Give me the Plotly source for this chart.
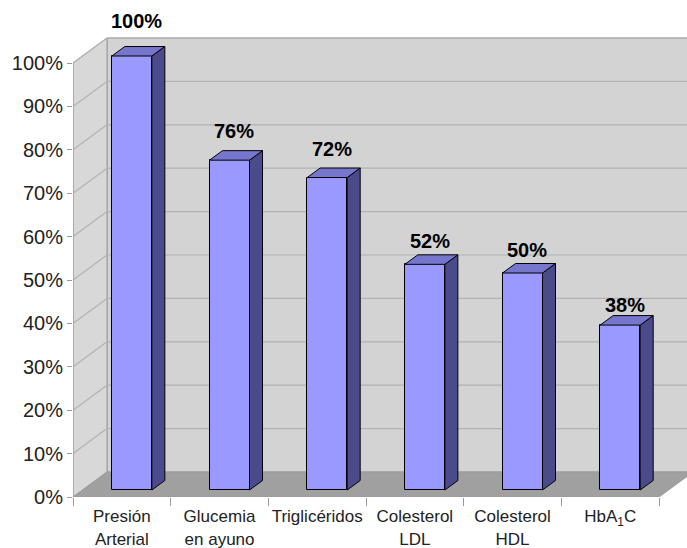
import plotly.graph_objects as go

categories = ["Presión<br>Arterial", "Glucemia<br>en ayuno", "Triglicéridos",
              "Colesterol<br>LDL", "Colesterol<br>HDL", "HbA<sub>1</sub>C"]
values = [100, 76, 72, 52, 50, 38]
y_ticks = [0, 10, 20, 30, 40, 50, 60, 70, 80, 90, 100]
y_ticktext = [f"{v}%" for v in y_ticks]
label_text = [f"{v}%" for v in values]

# ---- style / projection parameters (pixel-derived) ----
PX_X = 97.67   # px per category
PX_Y = 4.34    # px per percent
WALL_DX = 34 / PX_X
WALL_DY = 25 / PX_Y
BAR_OFF = 10 / PX_X
BAR_BASE = 7 / PX_Y
BAR_W = 40 / PX_X
BAR_DX = 13 / PX_X
BAR_DY = 9.5 / PX_Y

n = len(categories)
xs = list(range(n))
X_LEFT = -0.5
X_RIGHT = n - 0.5
ymax = 100

FRONT = "#9999ff"
SIDE = "#4b4b8b"
TOP = "#7676cc"
WALL = "#d3d3d3"
LWALL = "#d8d8d8"
FLOOR = "#a0a0a0"
GRID = "#b2b2b2"
EDGE = "#9a9a9a"
FONT = "Liberation Sans, Arial, sans-serif"

fig = go.Figure()

shapes = []
# back wall
shapes.append(dict(type="rect", xref="x", yref="y", layer="below",
                   x0=X_LEFT + WALL_DX, x1=X_RIGHT + WALL_DX,
                   y0=WALL_DY, y1=ymax + WALL_DY,
                   fillcolor=WALL, line=dict(color=EDGE, width=1)))
# left wall
shapes.append(dict(type="path", xref="x", yref="y", layer="below",
                   path=f"M{X_LEFT},0 L{X_LEFT},{ymax} L{X_LEFT+WALL_DX},{ymax+WALL_DY} "
                        f"L{X_LEFT+WALL_DX},{WALL_DY} Z",
                   fillcolor=LWALL, line=dict(color=EDGE, width=1)))
# floor
shapes.append(dict(type="path", xref="x", yref="y", layer="below",
                   path=f"M{X_LEFT},0 L{X_RIGHT},0 L{X_RIGHT+WALL_DX},{WALL_DY} "
                        f"L{X_LEFT+WALL_DX},{WALL_DY} Z",
                   fillcolor=FLOOR, line=dict(color=EDGE, width=1)))
# gridlines
for k in y_ticks[1:]:
    shapes.append(dict(type="line", xref="x", yref="y", layer="below",
                       x0=X_LEFT + WALL_DX, x1=X_RIGHT + WALL_DX,
                       y0=k + WALL_DY, y1=k + WALL_DY,
                       line=dict(color=GRID, width=1.2)))
    shapes.append(dict(type="line", xref="x", yref="y", layer="below",
                       x0=X_LEFT, x1=X_LEFT + WALL_DX,
                       y0=k, y1=k + WALL_DY,
                       line=dict(color=GRID, width=1.2)))
# front axis line
shapes.append(dict(type="line", xref="x", yref="y", layer="below",
                   x0=X_LEFT, x1=X_LEFT, y0=0, y1=ymax,
                   line=dict(color=EDGE, width=1)))

# bars: front faces
fig.add_trace(go.Bar(x=xs, y=values, base=BAR_BASE, offset=BAR_OFF - BAR_W / 2,
                     width=BAR_W, marker=dict(color=FRONT, line=dict(color="black", width=1)),
                     hoverinfo="skip", showlegend=False))

# side and top faces
for i, v in zip(xs, values):
    x0 = i + BAR_OFF - BAR_W / 2
    x1 = i + BAR_OFF + BAR_W / 2
    y0 = BAR_BASE
    y1 = BAR_BASE + v
    fig.add_trace(go.Scatter(
        x=[x1, x1 + BAR_DX, x1 + BAR_DX, x1, x1],
        y=[y0, y0 + BAR_DY, y1 + BAR_DY, y1, y0],
        mode="lines", fill="toself", fillcolor=SIDE,
        line=dict(color="black", width=1), hoverinfo="skip", showlegend=False))
    fig.add_trace(go.Scatter(
        x=[x0, x1, x1 + BAR_DX, x0 + BAR_DX, x0],
        y=[y1, y1, y1 + BAR_DY, y1 + BAR_DY, y1],
        mode="lines", fill="toself", fillcolor=TOP,
        line=dict(color="black", width=1), hoverinfo="skip", showlegend=False))

annotations = []
for i, v, t in zip(xs, values, label_text):
    annotations.append(dict(x=i + BAR_OFF + 0.05, y=v, xref="x", yref="y",
                            text=f"<b>{t}</b>", showarrow=False,
                            yanchor="middle", yshift=18 + 0.24 * v,
                            font=dict(family=FONT, size=20, color="black")))

fig.update_layout(
    width=687, height=548,
    margin=dict(l=73, r=0, t=0, b=51, autoexpand=False),
    paper_bgcolor="white", plot_bgcolor="white",
    shapes=shapes, annotations=annotations,
    bargap=0, barmode="overlay",
    xaxis=dict(range=[X_LEFT, X_LEFT + 614 / PX_X], tickmode="array", automargin=False,
               tickvals=xs, ticktext=categories, showgrid=False, zeroline=False,
               showline=False, ticks="outside", ticklen=4, tickcolor="rgba(0,0,0,0)",
               tickfont=dict(family=FONT, size=17, color="#222222"),
               minor=dict(tick0=-0.5, dtick=1, ticks="outside", ticklen=8,
                          tickcolor=EDGE, showgrid=False)),
    yaxis=dict(range=[0, 497 / PX_Y], tickmode="array", tickvals=y_ticks, automargin=False,
               ticktext=y_ticktext, showgrid=False, zeroline=False, showline=False,
               ticks="outside", ticklen=5, tickcolor=EDGE,
               tickfont=dict(family=FONT, size=20, color="#222222")),
)

fig.write_html("out.html")
